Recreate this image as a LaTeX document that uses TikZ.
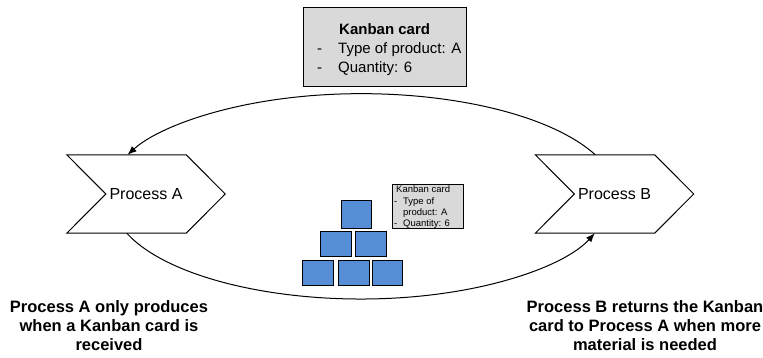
\documentclass[tikz,border=0pt]{standalone}
\usepackage{fontspec}
\setmainfont{Liberation Sans}
\usetikzlibrary{arrows.meta,calc}
\definecolor{cardgray}{RGB}{217,217,217}
\definecolor{stockblue}{RGB}{85,142,213}

\begin{document}
\begin{tikzpicture}[x=1pt,y=1pt,
  procnode/.style={draw=none, minimum width=158pt, minimum height=78pt, inner sep=0pt,
                   font=\fontsize{16}{19}\selectfont},
  chevline/.style={line width=1pt, line join=miter},
  card/.style={draw=black, line width=1pt, fill=cardgray, inner sep=0pt},
  cardtext/.style={inner sep=0pt, anchor=base west},
  stock/.style={draw=black, line width=1pt, fill=stockblue, inner sep=0pt,
                minimum width=31pt, minimum height=25pt},
  flow/.style={line width=1pt, -{Latex[length=9pt,width=7pt]}},
  note/.style={inner sep=0pt, anchor=base, font=\bfseries\fontsize{16.5}{18.8}\selectfont}]
\useasboundingbox (0,0) rectangle (763,358);

% large Kanban card
\node[card, minimum width=163pt, minimum height=79pt] (kc) at (384.5,310.5) {};
\node[cardtext, font=\fontsize{15}{18.6}\selectfont] (kctext) at (317,323)
  {\begin{tabular}[t]{@{}l@{\hspace{16pt}}l@{}}
   \multicolumn{2}{@{}l@{}}{\hspace{22pt}\textbf{Kanban card}}\\
   - & Type of product: A\\
   - & Quantity: 6
   \end{tabular}};

% processes (chevrons)
\node[procnode] (pa) at (146,164) {Process A};
\node[procnode] (pb) at (614.5,164) {Process B};
\foreach \p in {pa,pb}
  \draw[chevline] (\p.north west) -- ($(\p.north east)+(-39,0)$) -- (\p.east)
    -- ($(\p.south east)+(-39,0)$) -- (\p.south west) -- ($(\p.west)+(39,0)$) -- cycle;

% stock of containers
\node[stock, minimum width=30pt, minimum height=28pt] (s1) at (356,143) {};
\node[stock] (s2) at (335.5,113.5) {};
\node[stock] (s3) at (371,113.5) {};
\node[stock] (s4) at (317.5,84.5) {};
\node[stock] (s5) at (353.5,84.5) {};
\node[stock, minimum width=30pt] (s6) at (387,84.5) {};

% small Kanban card on the stock
\node[card, minimum width=71pt, minimum height=44pt] (sc) at (427.5,151) {};
\node[cardtext, font=\fontsize{9.5}{11.3}\selectfont] (sctext) at (394,165)
  {\begin{tabular}[t]{@{}l@{\hspace{5.8pt}}l@{}}
   \multicolumn{2}{@{}l@{}}{\hspace{2pt}Kanban card}\\
   - & Type of\\
     & product: A\\
   - & Quantity: 6
   \end{tabular}};

% card loop between the processes
\coordinate (bUp) at ($(pb.north west)+(60,0)$);
\coordinate (aDown) at ($(pa.south west)+(60,0)$);
\draw[flow] (bUp) arc[start angle=24, end angle=156, x radius=256, y radius=103];
\draw[flow] (aDown) arc[start angle=200, end angle=340, x radius=249, y radius=100];

% explanations
\node[note] (na) at (109,45)
  {\begin{tabular}[t]{@{}c@{}}Process A only produces\\ when a Kanban card is\\ received\end{tabular}};
\node[note] (nb) at (645,45)
  {\begin{tabular}[t]{@{}c@{}}Process B returns the Kanban\\ card to Process A when more\\ material is needed\end{tabular}};
\end{tikzpicture}
\end{document}
